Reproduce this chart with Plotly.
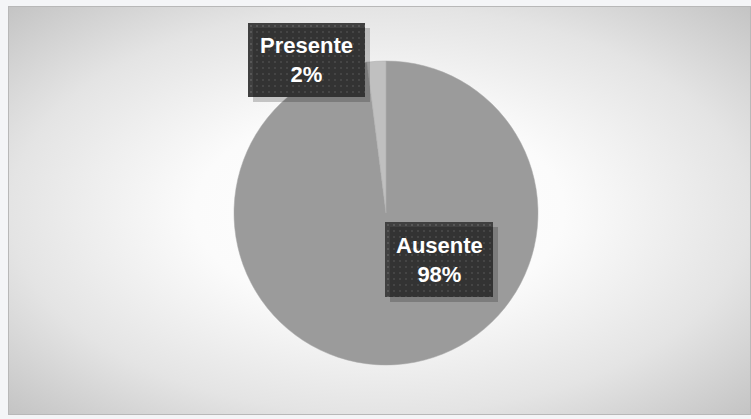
import base64
import plotly.graph_objects as go

W, H = 751, 419

# Data
categories = ["Ausente", "Presente"]
values = [98, 2]
slice_colors = ["#9b9b9b", "#c0c0c0"]


def px_x(x):
    return x / W


def px_y(y):
    return 1 - y / H


def svg_uri(svg):
    return "data:image/svg+xml;base64," + base64.b64encode(svg.encode()).decode()


# Radial gradient panel behind the pie
panel_svg = (
    '<svg xmlns="http://www.w3.org/2000/svg" width="743" height="409" '
    'preserveAspectRatio="none" viewBox="0 0 743 409">'
    '<defs><radialGradient id="g" cx="50%" cy="50%" r="71%">'
    '<stop offset="0" stop-color="#ffffff"/>'
    '<stop offset="0.35" stop-color="#fbfbfb"/>'
    '<stop offset="0.7" stop-color="#e4e4e4"/>'
    '<stop offset="1" stop-color="#c3c3c3"/>'
    '</radialGradient></defs>'
    '<rect width="743" height="409" fill="url(#g)"/>'
    '<rect x="0.5" y="0.5" width="742" height="408" fill="none" stroke="#b8b8b8"/>'
    '</svg>'
)

# Dark dotted label box
def box_svg(w, h):
    return (
        f'<svg xmlns="http://www.w3.org/2000/svg" width="{w}" height="{h}" '
        f'viewBox="0 0 {w} {h}" preserveAspectRatio="none">'
        '<defs><pattern id="p" width="6" height="6" patternUnits="userSpaceOnUse">'
        '<rect width="6" height="6" fill="#404040"/>'
        '<rect x="2" y="2" width="2" height="2" fill="#575757"/>'
        '</pattern></defs>'
        f'<rect width="{w}" height="{h}" fill="url(#p)"/></svg>'
    )


labels_pos = [
    # (text, left, top, width, height)
    ("Presente<br>2%", 248, 23, 117, 74),
    ("Ausente<br>98%", 385, 222, 108, 75),
]

fig = go.Figure(
    go.Pie(
        labels=categories,
        values=values,
        sort=False,
        direction="clockwise",
        rotation=0,
        marker=dict(colors=slice_colors, line=dict(color="#a8a8a8", width=0.5)),
        textinfo="none",
        hoverinfo="label+percent",
        showlegend=False,
        domain=dict(x=[px_x(234), px_x(538)], y=[px_y(365), px_y(61)]),
    )
)

images = [
    dict(
        source=svg_uri(panel_svg),
        xref="paper", yref="paper",
        x=px_x(8), y=px_y(6),
        sizex=px_x(743), sizey=(409 / H),
        sizing="stretch", xanchor="left", yanchor="top",
        layer="below",
    )
]
shapes = []
annotations = []
for text, left, top, w, h in labels_pos:
    shapes.append(
        dict(
            type="rect", xref="paper", yref="paper",
            x0=px_x(left + 5), x1=px_x(left + w + 5),
            y0=px_y(top + h + 5), y1=px_y(top + 5),
            fillcolor="rgba(0,0,0,0.2)", line=dict(width=0),
            layer="above",
        )
    )
    images.append(
        dict(
            source=svg_uri(box_svg(w, h)),
            xref="paper", yref="paper",
            x=px_x(left), y=px_y(top),
            sizex=px_x(w), sizey=h / H,
            sizing="stretch", xanchor="left", yanchor="top",
            layer="above",
        )
    )
    annotations.append(
        dict(
            text=f"<b>{text}</b>",
            xref="paper", yref="paper",
            x=px_x(left + w / 2), y=px_y(top + h / 2),
            xanchor="center", yanchor="middle",
            showarrow=False,
            font=dict(family="Liberation Sans, Arial, sans-serif", size=22, color="#ffffff"),
            align="center",
        )
    )

fig.update_layout(
    width=W, height=H,
    margin=dict(l=0, r=0, t=0, b=0),
    paper_bgcolor="#f4f5f7",
    images=images,
    shapes=shapes,
    annotations=annotations,
)

fig.write_html("out.html")
